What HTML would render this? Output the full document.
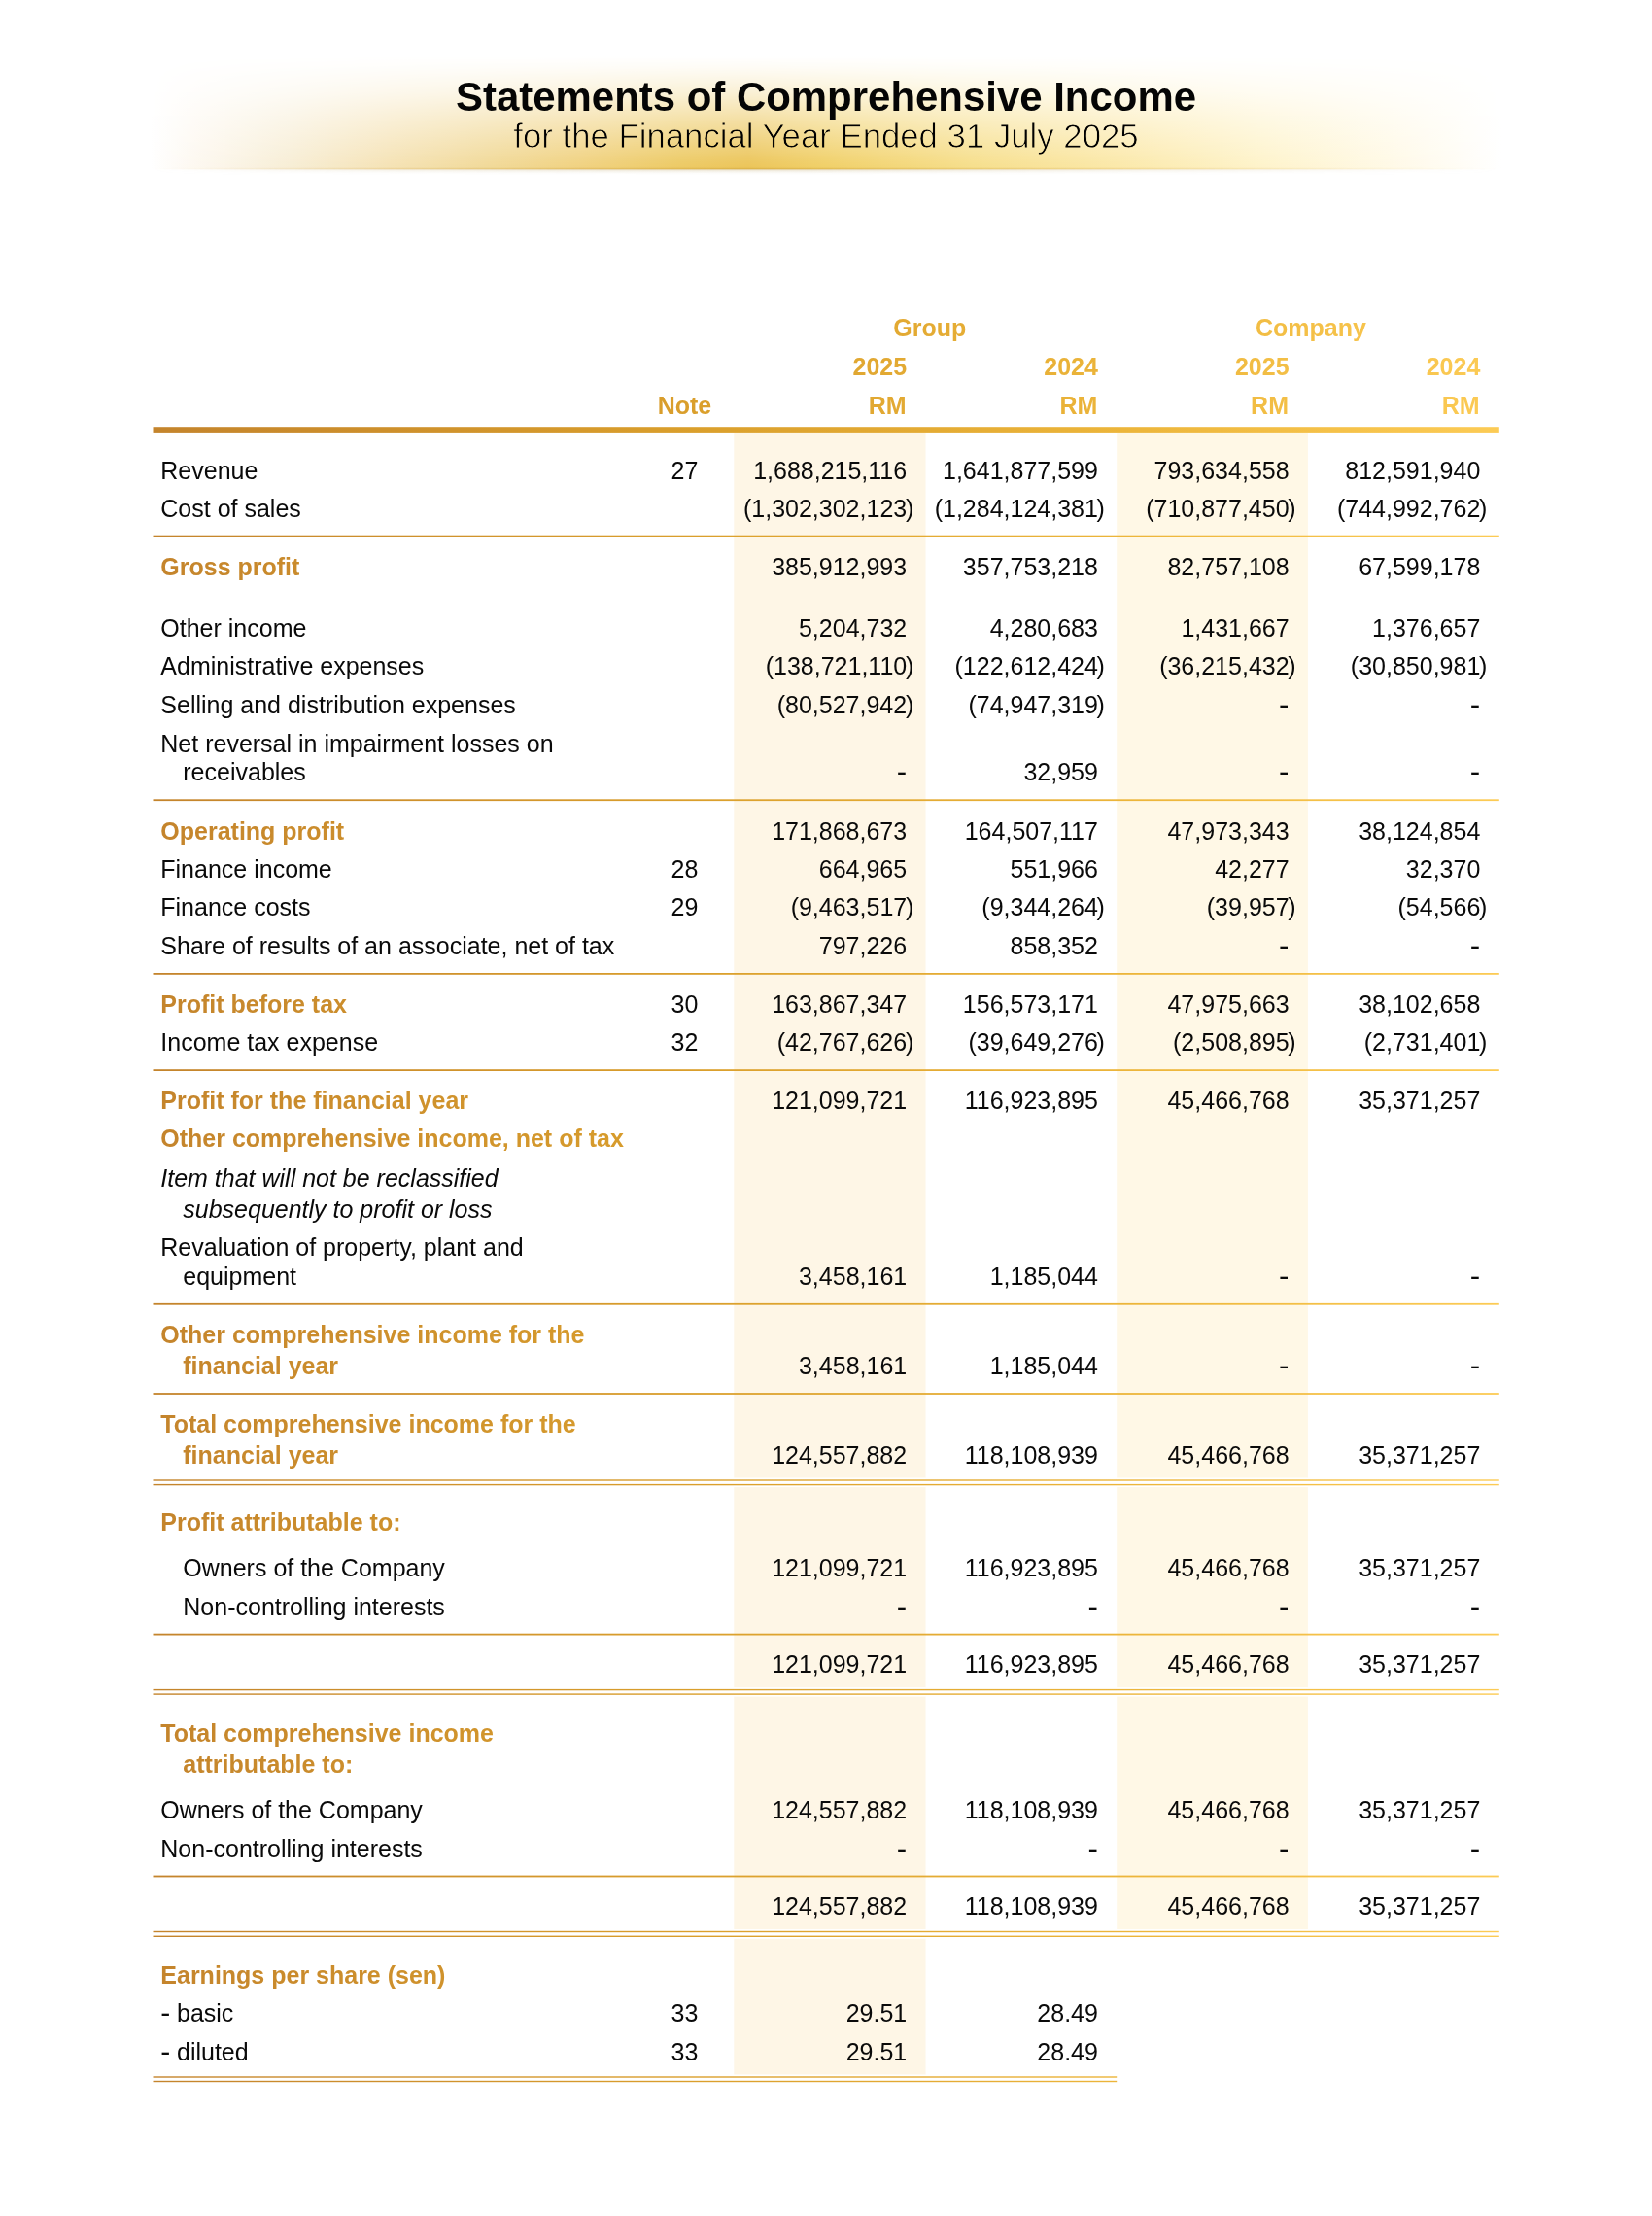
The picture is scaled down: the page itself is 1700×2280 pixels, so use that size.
<!DOCTYPE html>
<html><head><meta charset="utf-8"><title>Statements of Comprehensive Income</title>
<style>
html,body{margin:0;padding:0;background:#fff;}
body{width:1700px;height:2280px;overflow:hidden;position:relative;}
svg{position:absolute;left:0;top:0;display:block;will-change:transform;}
text{font-family:"Liberation Sans",Arial,Helvetica,sans-serif;}
.t{font-size:25px;fill:#0a0a0a;}
.b{font-size:25px;font-weight:700;fill:url(#tg);}
.i{font-size:25px;font-style:italic;fill:#0a0a0a;}
.h{font-size:25px;font-weight:700;fill:url(#tg);}
</style></head><body>
<svg width="1700" height="2280" viewBox="0 0 1700 2280">
<defs>
<linearGradient id="tg" gradientUnits="userSpaceOnUse" x1="157.5" y1="0" x2="1542.8" y2="0">
<stop offset="0" stop-color="#C4842C"/>
<stop offset="0.40" stop-color="#DA9F2C"/>
<stop offset="0.72" stop-color="#ECB53A"/>
<stop offset="1" stop-color="#FCCB55"/>
</linearGradient>
<linearGradient id="bh2" gradientUnits="userSpaceOnUse" x1="155" y1="0" x2="1545" y2="0">
<stop offset="0" stop-color="#FFFFFF"/>
<stop offset="0.0324" stop-color="#FDF8F0"/>
<stop offset="0.1043" stop-color="#F7EDD4"/>
<stop offset="0.1763" stop-color="#F5E2B4"/>
<stop offset="0.2482" stop-color="#F1D998"/>
<stop offset="0.3201" stop-color="#F0D17E"/>
<stop offset="0.3921" stop-color="#ECC962"/>
<stop offset="0.4424" stop-color="#EBC457"/>
<stop offset="0.5000" stop-color="#F0CF66"/>
<stop offset="0.6079" stop-color="#F6DE8A"/>
<stop offset="0.7158" stop-color="#FBE8A8"/>
<stop offset="0.8237" stop-color="#FEF3CA"/>
<stop offset="0.9317" stop-color="#FFFAEA"/>
<stop offset="1" stop-color="#FFFFFF"/>
</linearGradient>
<linearGradient id="bvm" gradientUnits="userSpaceOnUse" x1="0" y1="58" x2="0" y2="174.5">
<stop offset="0" stop-color="#fff" stop-opacity="0"/>
<stop offset="0.10" stop-color="#fff" stop-opacity="0.06"/>
<stop offset="0.32" stop-color="#fff" stop-opacity="0.25"/>
<stop offset="0.54" stop-color="#fff" stop-opacity="0.52"/>
<stop offset="0.76" stop-color="#fff" stop-opacity="0.76"/>
<stop offset="0.93" stop-color="#fff" stop-opacity="0.94"/>
<stop offset="1" stop-color="#fff" stop-opacity="1"/>
</linearGradient>
<mask id="bm2" maskUnits="userSpaceOnUse" x="0" y="0" width="1700" height="200">
<rect x="0" y="58" width="1700" height="116.5" fill="url(#bvm)"/>
</mask>
<linearGradient id="bhm" gradientUnits="userSpaceOnUse" x1="155" y1="0" x2="1545" y2="0">
<stop offset="0" stop-color="#fff" stop-opacity="0"/>
<stop offset="0.0324" stop-color="#fff" stop-opacity="0.06"/>
<stop offset="0.1043" stop-color="#fff" stop-opacity="0.28"/>
<stop offset="0.1763" stop-color="#fff" stop-opacity="0.5"/>
<stop offset="0.2482" stop-color="#fff" stop-opacity="0.66"/>
<stop offset="0.3201" stop-color="#fff" stop-opacity="0.82"/>
<stop offset="0.4424" stop-color="#fff" stop-opacity="1"/>
<stop offset="0.5000" stop-color="#fff" stop-opacity="0.95"/>
<stop offset="0.6079" stop-color="#fff" stop-opacity="0.72"/>
<stop offset="0.7158" stop-color="#fff" stop-opacity="0.52"/>
<stop offset="0.8237" stop-color="#fff" stop-opacity="0.32"/>
<stop offset="0.9317" stop-color="#fff" stop-opacity="0.1"/>
<stop offset="1" stop-color="#fff" stop-opacity="0"/>
</linearGradient>
<mask id="bhmask" maskUnits="userSpaceOnUse" x="0" y="0" width="1700" height="200">
<rect x="155" y="160" width="1390" height="30" fill="url(#bhm)"/>
</mask>
<linearGradient id="shv" gradientUnits="userSpaceOnUse" x1="0" y1="174.3" x2="0" y2="180">
<stop offset="0" stop-color="#B89A50" stop-opacity="0.32"/>
<stop offset="0.35" stop-color="#C0A870" stop-opacity="0.16"/>
<stop offset="0.7" stop-color="#C8B890" stop-opacity="0.05"/>
<stop offset="1" stop-color="#C8B890" stop-opacity="0"/>
</linearGradient>
<mask id="subm" maskUnits="userSpaceOnUse" x="400" y="110" width="900" height="60">
<text x="850" y="152.3" text-anchor="middle" style="font-size:34.75px;fill:#fff;stroke:#000;stroke-width:0.85">for the Financial Year Ended 31 July 2025</text>
</mask>
</defs>
<rect x="155" y="58" width="1390" height="116.5" fill="url(#bh2)" mask="url(#bm2)"/>
<g mask="url(#bhmask)"><rect x="155" y="172.8" width="1390" height="1.7" fill="#C89A35" opacity="0.35"/><rect x="155" y="174.3" width="1390" height="5.7" fill="url(#shv)"/></g>
<text x="850" y="113.6" text-anchor="middle" style="font-size:41.95px;font-weight:700;fill:#050505">Statements of Comprehensive Income</text>
<text x="850" y="152.3" text-anchor="middle" mask="url(#subm)" style="font-size:34.75px;fill:#000">for the Financial Year Ended 31 July 2025</text>
<rect x="755.3" y="445.5" width="197.20000000000005" height="1691.6999999999998" fill="#FEF6E6"/>
<rect x="1149.2" y="445.5" width="196.70000000000005" height="1542.1" fill="#FFF8E6"/>
<text class="h" x="956.75" y="346.2" text-anchor="middle">Group</text>
<text class="h" x="1348.9" y="346.2" text-anchor="middle">Company</text>
<text class="h" x="933.2" y="386.1" text-anchor="end">2025</text>
<text class="h" x="932.6" y="426.0" text-anchor="end">RM</text>
<text class="h" x="1129.9" y="386.1" text-anchor="end">2024</text>
<text class="h" x="1129.3" y="426.0" text-anchor="end">RM</text>
<text class="h" x="1326.6" y="386.1" text-anchor="end">2025</text>
<text class="h" x="1326.0" y="426.0" text-anchor="end">RM</text>
<text class="h" x="1523.3" y="386.1" text-anchor="end">2024</text>
<text class="h" x="1522.7" y="426.0" text-anchor="end">RM</text>
<text class="h" x="704.5" y="426.0" text-anchor="middle">Note</text>
<rect x="157.5" y="439.2" width="1385.3" height="5.7" fill="url(#tg)"/>
<rect x="157.5" y="550.7" width="1385.3" height="1.8" fill="url(#tg)"/>
<rect x="157.5" y="822.3" width="1385.3" height="1.8" fill="url(#tg)"/>
<rect x="157.5" y="1001.0" width="1385.3" height="1.8" fill="url(#tg)"/>
<rect x="157.5" y="1100.2" width="1385.3" height="1.8" fill="url(#tg)"/>
<rect x="157.5" y="1340.9" width="1385.3" height="1.8" fill="url(#tg)"/>
<rect x="157.5" y="1433.1" width="1385.3" height="1.8" fill="url(#tg)"/>
<rect x="157.5" y="1680.7" width="1385.3" height="1.8" fill="url(#tg)"/>
<rect x="157.5" y="1929.6" width="1385.3" height="1.8" fill="url(#tg)"/>
<rect x="157.5" y="1520.5" width="1385.3" height="9.6" fill="#fff"/>
<rect x="157.5" y="1522.3" width="1385.3" height="1.4" fill="url(#tg)"/>
<rect x="157.5" y="1526.9" width="1385.3" height="1.4" fill="url(#tg)"/>
<rect x="157.5" y="1736.1" width="1385.3" height="9.5" fill="#fff"/>
<rect x="157.5" y="1737.9" width="1385.3" height="1.4" fill="url(#tg)"/>
<rect x="157.5" y="1742.4" width="1385.3" height="1.4" fill="url(#tg)"/>
<rect x="157.5" y="1985.0" width="1385.3" height="9.8" fill="#fff"/>
<rect x="157.5" y="1986.8" width="1385.3" height="1.4" fill="url(#tg)"/>
<rect x="157.5" y="1991.6" width="1385.3" height="1.4" fill="url(#tg)"/>
<rect x="157.5" y="2134.5" width="991.7" height="9.5" fill="#fff"/>
<rect x="157.5" y="2136.3" width="991.7" height="1.4" fill="url(#tg)"/>
<rect x="157.5" y="2140.8" width="991.7" height="1.4" fill="url(#tg)"/>
<text class="t" x="165.3" y="492.7">Revenue</text>
<text class="t" x="704.5" y="492.7" text-anchor="middle">27</text>
<text class="t" x="933.2" y="492.7" text-anchor="end">1,688,215,116</text>
<text class="t" x="1129.9" y="492.7" text-anchor="end">1,641,877,599</text>
<text class="t" x="1326.6" y="492.7" text-anchor="end">793,634,558</text>
<text class="t" x="1523.3" y="492.7" text-anchor="end">812,591,940</text>
<text class="t" x="165.3" y="532.0">Cost of sales</text>
<text class="t" x="933.2" y="532.0" text-anchor="end">(1,302,302,123</text><text class="t" x="931.9" y="532.0">)</text>
<text class="t" x="1129.9" y="532.0" text-anchor="end">(1,284,124,381</text><text class="t" x="1128.6" y="532.0">)</text>
<text class="t" x="1326.6" y="532.0" text-anchor="end">(710,877,450</text><text class="t" x="1325.3" y="532.0">)</text>
<text class="t" x="1523.3" y="532.0" text-anchor="end">(744,992,762</text><text class="t" x="1522.0" y="532.0">)</text>
<text class="b" x="165.3" y="591.7">Gross profit</text>
<text class="t" x="933.2" y="591.7" text-anchor="end">385,912,993</text>
<text class="t" x="1129.9" y="591.7" text-anchor="end">357,753,218</text>
<text class="t" x="1326.6" y="591.7" text-anchor="end">82,757,108</text>
<text class="t" x="1523.3" y="591.7" text-anchor="end">67,599,178</text>
<text class="t" x="165.3" y="654.9">Other income</text>
<text class="t" x="933.2" y="654.9" text-anchor="end">5,204,732</text>
<text class="t" x="1129.9" y="654.9" text-anchor="end">4,280,683</text>
<text class="t" x="1326.6" y="654.9" text-anchor="end">1,431,667</text>
<text class="t" x="1523.3" y="654.9" text-anchor="end">1,376,657</text>
<text class="t" x="165.3" y="694.4">Administrative expenses</text>
<text class="t" x="933.2" y="694.4" text-anchor="end">(138,721,110</text><text class="t" x="931.9" y="694.4">)</text>
<text class="t" x="1129.9" y="694.4" text-anchor="end">(122,612,424</text><text class="t" x="1128.6" y="694.4">)</text>
<text class="t" x="1326.6" y="694.4" text-anchor="end">(36,215,432</text><text class="t" x="1325.3" y="694.4">)</text>
<text class="t" x="1523.3" y="694.4" text-anchor="end">(30,850,981</text><text class="t" x="1522.0" y="694.4">)</text>
<text class="t" x="165.3" y="734.2">Selling and distribution expenses</text>
<text class="t" x="933.2" y="734.2" text-anchor="end">(80,527,942</text><text class="t" x="931.9" y="734.2">)</text>
<text class="t" x="1129.9" y="734.2" text-anchor="end">(74,947,319</text><text class="t" x="1128.6" y="734.2">)</text>
<text class="t" x="1326.6" y="734.2" text-anchor="end" transform="matrix(1.25 0 0 1.15 -331.75 -108.95)">-</text>
<text class="t" x="1523.3" y="734.2" text-anchor="end" transform="matrix(1.25 0 0 1.15 -380.92 -108.95)">-</text>
<text class="t" x="165.3" y="773.6">Net reversal in impairment losses on</text>
<text class="t" x="188.3" y="803.3">receivables</text>
<text class="t" x="933.2" y="803.3" text-anchor="end" transform="matrix(1.25 0 0 1.15 -233.40 -119.31)">-</text>
<text class="t" x="1129.9" y="803.3" text-anchor="end">32,959</text>
<text class="t" x="1326.6" y="803.3" text-anchor="end" transform="matrix(1.25 0 0 1.15 -331.75 -119.31)">-</text>
<text class="t" x="1523.3" y="803.3" text-anchor="end" transform="matrix(1.25 0 0 1.15 -380.92 -119.31)">-</text>
<text class="b" x="165.3" y="863.7">Operating profit</text>
<text class="t" x="933.2" y="863.7" text-anchor="end">171,868,673</text>
<text class="t" x="1129.9" y="863.7" text-anchor="end">164,507,117</text>
<text class="t" x="1326.6" y="863.7" text-anchor="end">47,973,343</text>
<text class="t" x="1523.3" y="863.7" text-anchor="end">38,124,854</text>
<text class="t" x="165.3" y="902.7">Finance income</text>
<text class="t" x="704.5" y="902.7" text-anchor="middle">28</text>
<text class="t" x="933.2" y="902.7" text-anchor="end">664,965</text>
<text class="t" x="1129.9" y="902.7" text-anchor="end">551,966</text>
<text class="t" x="1326.6" y="902.7" text-anchor="end">42,277</text>
<text class="t" x="1523.3" y="902.7" text-anchor="end">32,370</text>
<text class="t" x="165.3" y="942.3">Finance costs</text>
<text class="t" x="704.5" y="942.3" text-anchor="middle">29</text>
<text class="t" x="933.2" y="942.3" text-anchor="end">(9,463,517</text><text class="t" x="931.9" y="942.3">)</text>
<text class="t" x="1129.9" y="942.3" text-anchor="end">(9,344,264</text><text class="t" x="1128.6" y="942.3">)</text>
<text class="t" x="1326.6" y="942.3" text-anchor="end">(39,957</text><text class="t" x="1325.3" y="942.3">)</text>
<text class="t" x="1523.3" y="942.3" text-anchor="end">(54,566</text><text class="t" x="1522.0" y="942.3">)</text>
<text class="t" x="165.3" y="981.8">Share of results of an associate, net of tax</text>
<text class="t" x="933.2" y="981.8" text-anchor="end">797,226</text>
<text class="t" x="1129.9" y="981.8" text-anchor="end">858,352</text>
<text class="t" x="1326.6" y="981.8" text-anchor="end" transform="matrix(1.25 0 0 1.15 -331.75 -146.09)">-</text>
<text class="t" x="1523.3" y="981.8" text-anchor="end" transform="matrix(1.25 0 0 1.15 -380.92 -146.09)">-</text>
<text class="b" x="165.3" y="1041.7">Profit before tax</text>
<text class="t" x="704.5" y="1041.7" text-anchor="middle">30</text>
<text class="t" x="933.2" y="1041.7" text-anchor="end">163,867,347</text>
<text class="t" x="1129.9" y="1041.7" text-anchor="end">156,573,171</text>
<text class="t" x="1326.6" y="1041.7" text-anchor="end">47,975,663</text>
<text class="t" x="1523.3" y="1041.7" text-anchor="end">38,102,658</text>
<text class="t" x="165.3" y="1081.0">Income tax expense</text>
<text class="t" x="704.5" y="1081.0" text-anchor="middle">32</text>
<text class="t" x="933.2" y="1081.0" text-anchor="end">(42,767,626</text><text class="t" x="931.9" y="1081.0">)</text>
<text class="t" x="1129.9" y="1081.0" text-anchor="end">(39,649,276</text><text class="t" x="1128.6" y="1081.0">)</text>
<text class="t" x="1326.6" y="1081.0" text-anchor="end">(2,508,895</text><text class="t" x="1325.3" y="1081.0">)</text>
<text class="t" x="1523.3" y="1081.0" text-anchor="end">(2,731,401</text><text class="t" x="1522.0" y="1081.0">)</text>
<text class="b" x="165.3" y="1141.0">Profit for the financial year</text>
<text class="t" x="933.2" y="1141.0" text-anchor="end">121,099,721</text>
<text class="t" x="1129.9" y="1141.0" text-anchor="end">116,923,895</text>
<text class="t" x="1326.6" y="1141.0" text-anchor="end">45,466,768</text>
<text class="t" x="1523.3" y="1141.0" text-anchor="end">35,371,257</text>
<text class="b" x="165.3" y="1180.4">Other comprehensive income, net of tax</text>
<text class="i" x="165.3" y="1220.9">Item that will not be reclassified</text>
<text class="i" x="188.3" y="1253.0">subsequently to profit or loss</text>
<text class="t" x="165.3" y="1292.3">Revaluation of property, plant and</text>
<text class="t" x="188.3" y="1322.0">equipment</text>
<text class="t" x="933.2" y="1322.0" text-anchor="end">3,458,161</text>
<text class="t" x="1129.9" y="1322.0" text-anchor="end">1,185,044</text>
<text class="t" x="1326.6" y="1322.0" text-anchor="end" transform="matrix(1.25 0 0 1.15 -331.75 -197.12)">-</text>
<text class="t" x="1523.3" y="1322.0" text-anchor="end" transform="matrix(1.25 0 0 1.15 -380.92 -197.12)">-</text>
<text class="b" x="165.3" y="1381.9">Other comprehensive income for the</text>
<text class="b" x="188.3" y="1414.0">financial year</text>
<text class="t" x="933.2" y="1414.0" text-anchor="end">3,458,161</text>
<text class="t" x="1129.9" y="1414.0" text-anchor="end">1,185,044</text>
<text class="t" x="1326.6" y="1414.0" text-anchor="end" transform="matrix(1.25 0 0 1.15 -331.75 -210.92)">-</text>
<text class="t" x="1523.3" y="1414.0" text-anchor="end" transform="matrix(1.25 0 0 1.15 -380.92 -210.92)">-</text>
<text class="b" x="165.3" y="1473.9">Total comprehensive income for the</text>
<text class="b" x="188.3" y="1506.1">financial year</text>
<text class="t" x="933.2" y="1506.1" text-anchor="end">124,557,882</text>
<text class="t" x="1129.9" y="1506.1" text-anchor="end">118,108,939</text>
<text class="t" x="1326.6" y="1506.1" text-anchor="end">45,466,768</text>
<text class="t" x="1523.3" y="1506.1" text-anchor="end">35,371,257</text>
<text class="b" x="165.3" y="1574.6">Profit attributable to:</text>
<text class="t" x="188.3" y="1622.4">Owners of the Company</text>
<text class="t" x="933.2" y="1622.4" text-anchor="end">121,099,721</text>
<text class="t" x="1129.9" y="1622.4" text-anchor="end">116,923,895</text>
<text class="t" x="1326.6" y="1622.4" text-anchor="end">45,466,768</text>
<text class="t" x="1523.3" y="1622.4" text-anchor="end">35,371,257</text>
<text class="t" x="188.3" y="1661.9">Non-controlling interests</text>
<text class="t" x="933.2" y="1661.9" text-anchor="end" transform="matrix(1.25 0 0 1.15 -233.40 -248.10)">-</text>
<text class="t" x="1129.9" y="1661.9" text-anchor="end" transform="matrix(1.25 0 0 1.15 -282.57 -248.10)">-</text>
<text class="t" x="1326.6" y="1661.9" text-anchor="end" transform="matrix(1.25 0 0 1.15 -331.75 -248.10)">-</text>
<text class="t" x="1523.3" y="1661.9" text-anchor="end" transform="matrix(1.25 0 0 1.15 -380.92 -248.10)">-</text>
<text class="t" x="933.2" y="1721.2" text-anchor="end">121,099,721</text>
<text class="t" x="1129.9" y="1721.2" text-anchor="end">116,923,895</text>
<text class="t" x="1326.6" y="1721.2" text-anchor="end">45,466,768</text>
<text class="t" x="1523.3" y="1721.2" text-anchor="end">35,371,257</text>
<text class="b" x="165.3" y="1791.7">Total comprehensive income</text>
<text class="b" x="188.3" y="1823.8">attributable to:</text>
<text class="t" x="165.3" y="1871.2">Owners of the Company</text>
<text class="t" x="933.2" y="1871.2" text-anchor="end">124,557,882</text>
<text class="t" x="1129.9" y="1871.2" text-anchor="end">118,108,939</text>
<text class="t" x="1326.6" y="1871.2" text-anchor="end">45,466,768</text>
<text class="t" x="1523.3" y="1871.2" text-anchor="end">35,371,257</text>
<text class="t" x="165.3" y="1910.8">Non-controlling interests</text>
<text class="t" x="933.2" y="1910.8" text-anchor="end" transform="matrix(1.25 0 0 1.15 -233.40 -285.44)">-</text>
<text class="t" x="1129.9" y="1910.8" text-anchor="end" transform="matrix(1.25 0 0 1.15 -282.57 -285.44)">-</text>
<text class="t" x="1326.6" y="1910.8" text-anchor="end" transform="matrix(1.25 0 0 1.15 -331.75 -285.44)">-</text>
<text class="t" x="1523.3" y="1910.8" text-anchor="end" transform="matrix(1.25 0 0 1.15 -380.92 -285.44)">-</text>
<text class="t" x="933.2" y="1970.2" text-anchor="end">124,557,882</text>
<text class="t" x="1129.9" y="1970.2" text-anchor="end">118,108,939</text>
<text class="t" x="1326.6" y="1970.2" text-anchor="end">45,466,768</text>
<text class="t" x="1523.3" y="1970.2" text-anchor="end">35,371,257</text>
<text class="b" x="165.3" y="2040.5">Earnings per share (sen)</text>
<text class="t" x="165.3" y="2079.8" transform="matrix(1.2 0 0 1.15 -33.10 -310.49)">-</text><text class="t" x="182.0" y="2079.8">basic</text>
<text class="t" x="704.5" y="2079.8" text-anchor="middle">33</text>
<text class="t" x="933.2" y="2079.8" text-anchor="end">29.51</text>
<text class="t" x="1129.9" y="2079.8" text-anchor="end">28.49</text>
<text class="t" x="165.3" y="2119.8" transform="matrix(1.2 0 0 1.15 -33.10 -316.49)">-</text><text class="t" x="182.0" y="2119.8">diluted</text>
<text class="t" x="704.5" y="2119.8" text-anchor="middle">33</text>
<text class="t" x="933.2" y="2119.8" text-anchor="end">29.51</text>
<text class="t" x="1129.9" y="2119.8" text-anchor="end">28.49</text>
</svg>
</body></html>
